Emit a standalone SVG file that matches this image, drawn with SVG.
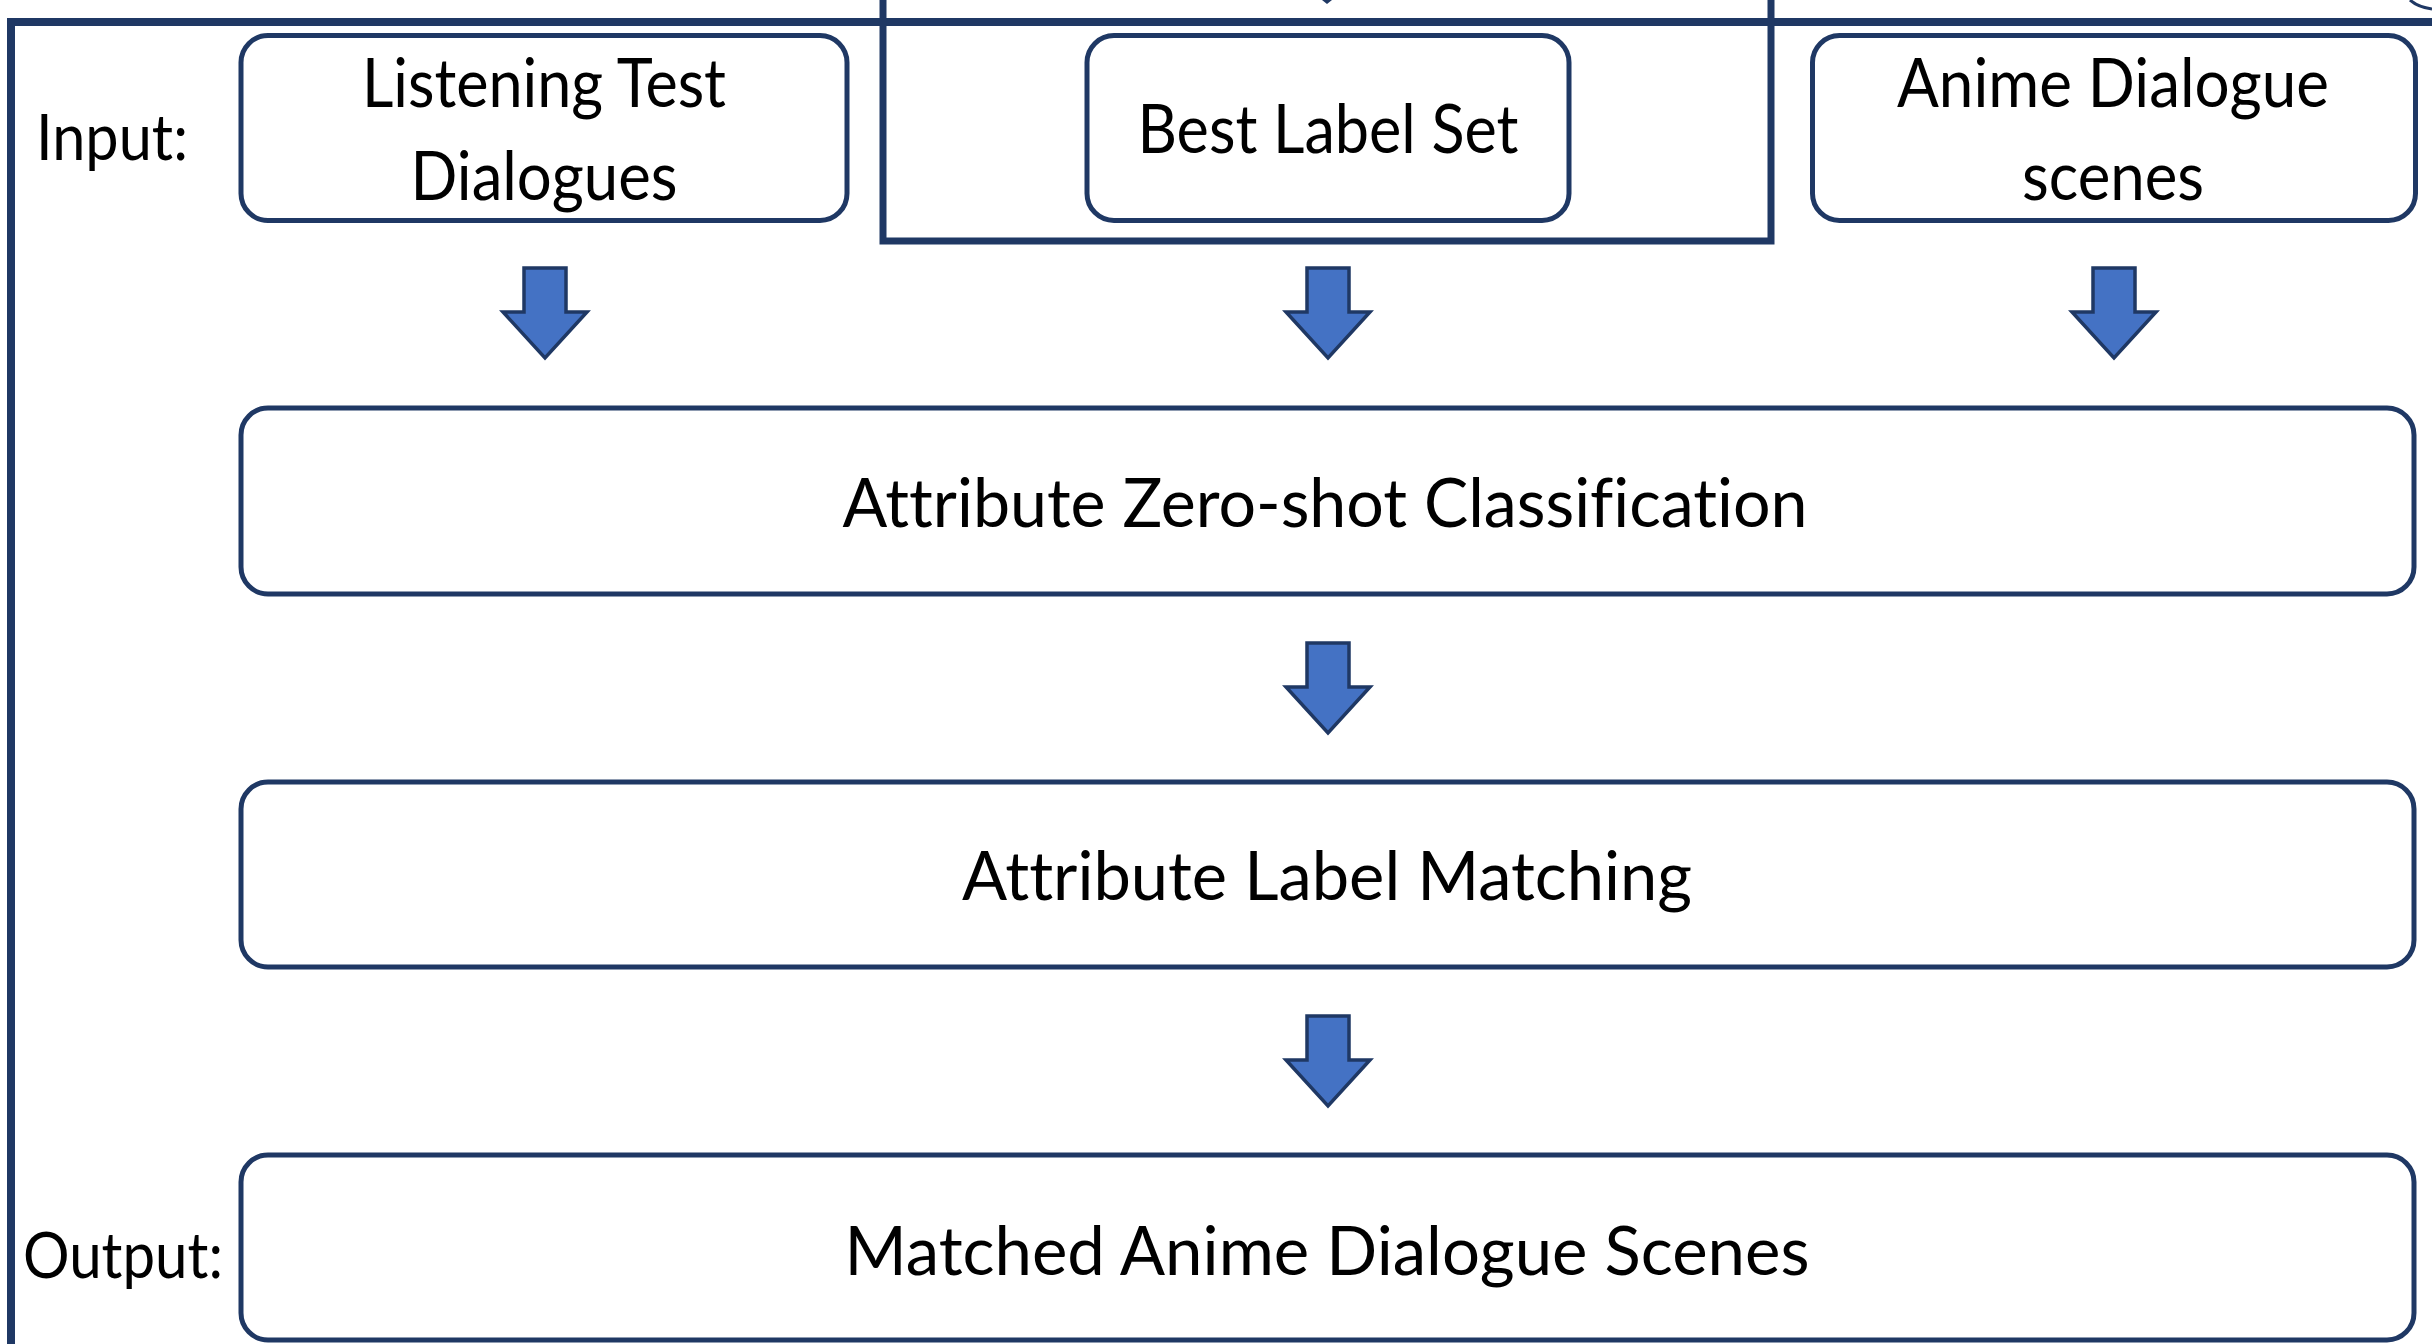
<svg xmlns="http://www.w3.org/2000/svg" width="2432" height="1344" viewBox="0 0 2432 1344">
  <style>
    .frame { fill: none; stroke: #1F3864; stroke-width: 8; }
    .box { fill: #FFFFFF; stroke: #1F3864; stroke-width: 5; }
    .lbl, .side { font-family: Lato, "Open Sans", sans-serif; fill: #000000; font-variant-ligatures: none; font-feature-settings: "liga" 0, "dlig" 0; }
    .lbl { font-size: 68px; }
    .side { font-size: 64px; }
    .mid { text-anchor: middle; }
    .blk { fill: #4472C4; stroke: #1F3864; stroke-width: 3.5; stroke-linejoin: miter; }
  </style>
  <defs>
    <!-- block arrow pointing down, origin at top centre of shaft -->
    <path id="down" d="M-21,0 H21 V44 H42 L0,90 L-42,44 H-21 Z"/>
  </defs>

  <rect width="2432" height="1344" fill="#FFFFFF"/>

  <!-- outer frame and the frame around the label set -->
  <g id="frames">
    <path class="frame" d="M11,1350 V22 H2440"/>
    <path class="frame" d="M883,-10 V241 H1771 V-10" style="stroke-width:7"/>
  </g>

  <!-- side labels -->
  <text class="side" x="36" y="160" textLength="152" lengthAdjust="spacingAndGlyphs">Input:</text>
  <text class="side" x="23" y="1278" textLength="200" lengthAdjust="spacingAndGlyphs">Output:</text>

  <g id="node-listening">
    <rect class="box" x="241" y="35.5" width="606" height="185" rx="27"/>
    <text class="lbl mid" x="544" y="107" textLength="364" lengthAdjust="spacingAndGlyphs">Listening Test</text>
    <text class="lbl mid" x="544" y="200" textLength="267" lengthAdjust="spacingAndGlyphs">Dialogues</text>
  </g>

  <g id="node-labelset">
    <rect class="box" x="1087" y="35.5" width="482" height="185" rx="27"/>
    <text class="lbl mid" x="1328" y="153" textLength="381" lengthAdjust="spacingAndGlyphs">Best Label Set</text>
  </g>

  <g id="node-anime">
    <rect class="box" x="1812.5" y="35.5" width="603" height="185" rx="27"/>
    <text class="lbl mid" x="2113" y="107" textLength="432" lengthAdjust="spacingAndGlyphs">Anime Dialogue</text>
    <text class="lbl mid" x="2113" y="200" textLength="182" lengthAdjust="spacingAndGlyphs">scenes</text>
  </g>

  <g id="node-classification">
    <rect class="box" x="241" y="408" width="2173" height="186" rx="27"/>
    <text class="lbl mid" x="1325" y="527" textLength="965" lengthAdjust="spacingAndGlyphs">Attribute Zero-shot Classification</text>
  </g>

  <g id="node-matching">
    <rect class="box" x="241" y="782" width="2173" height="185" rx="27"/>
    <text class="lbl mid" x="1327" y="900" textLength="730" lengthAdjust="spacingAndGlyphs">Attribute Label Matching</text>
  </g>

  <g id="node-output">
    <rect class="box" x="241" y="1155" width="2173" height="185" rx="27"/>
    <text class="lbl mid" x="1327" y="1275" textLength="965" lengthAdjust="spacingAndGlyphs">Matched Anime Dialogue Scenes</text>
  </g>

  <g id="connectors">
    <use href="#down" class="blk" x="545" y="268"/>
    <use href="#down" class="blk" x="1328" y="268"/>
    <use href="#down" class="blk" x="2114" y="268"/>
    <use href="#down" class="blk" x="1328" y="643"/>
    <use href="#down" class="blk" x="1328" y="1016"/>
    <!-- tips of connectors entering from above the frame -->
    <path d="M1322,0 H1332 L1327,4 Z" fill="#1F3864"/>
    <path d="M2410,0 Q2418,7 2432,9" fill="none" stroke="#1F3864" stroke-width="3"/>
  </g>
</svg>
